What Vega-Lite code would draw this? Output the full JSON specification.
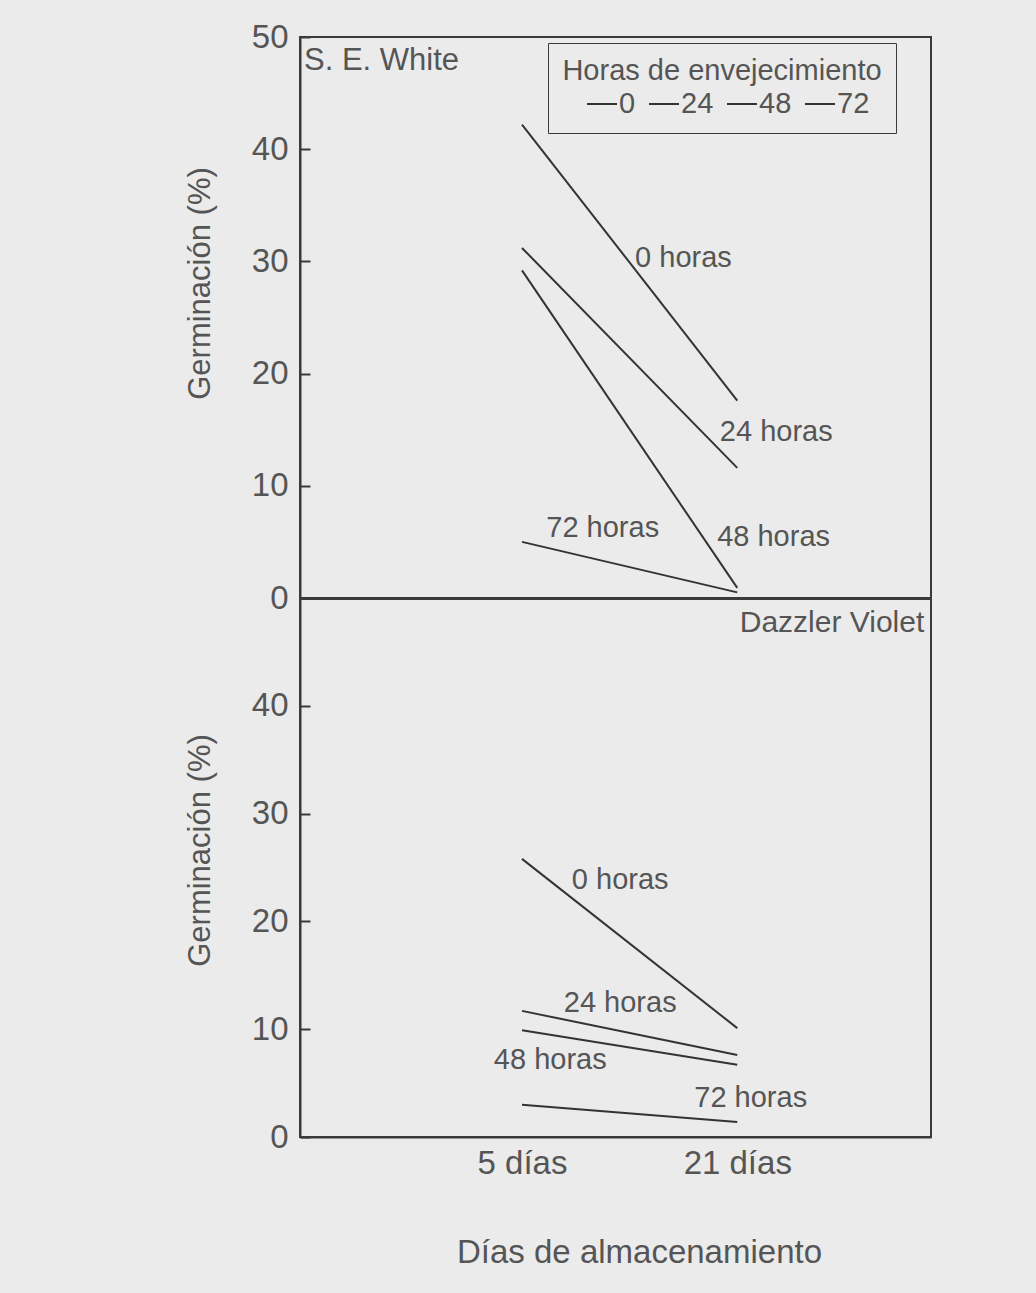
{
  "$schema": "https://vega.github.io/schema/vega-lite/v6.json",
  "background": "#ebebeb",
  "padding": {"left": 183, "top": 20, "right": 104, "bottom": 34},
  "spacing": 0,
  "bounds": "flush",
  "config": {
    "font": "Liberation Sans",
    "view": {"stroke": "#3a3a3a", "strokeWidth": 2},
    "axis": {"grid": false, "domainColor": "#3a3a3a", "domainWidth": 2, "tickColor": "#3a3a3a", "tickWidth": 2, "labelColor": "#555555", "titleColor": "#555555", "titleFontWeight": "normal", "labelFont": "Liberation Sans", "titleFont": "Liberation Sans"},
    "text": {"font": "Liberation Sans", "color": "#555555"}
  },
  "datasets": {
    "lines": [
      {"panel": "S. E. White", "horas": "0", "dia": 5, "germ": 42.2},
      {"panel": "S. E. White", "horas": "0", "dia": 21, "germ": 17.6},
      {"panel": "S. E. White", "horas": "24", "dia": 5, "germ": 31.2},
      {"panel": "S. E. White", "horas": "24", "dia": 21, "germ": 11.6},
      {"panel": "S. E. White", "horas": "48", "dia": 5, "germ": 29.2},
      {"panel": "S. E. White", "horas": "48", "dia": 21, "germ": 0.9},
      {"panel": "S. E. White", "horas": "72", "dia": 5, "germ": 5.0},
      {"panel": "S. E. White", "horas": "72", "dia": 21, "germ": 0.5},
      {"panel": "Dazzler Violet", "horas": "0", "dia": 5, "germ": 25.8},
      {"panel": "Dazzler Violet", "horas": "0", "dia": 21, "germ": 10.1},
      {"panel": "Dazzler Violet", "horas": "24", "dia": 5, "germ": 11.7},
      {"panel": "Dazzler Violet", "horas": "24", "dia": 21, "germ": 7.6},
      {"panel": "Dazzler Violet", "horas": "48", "dia": 5, "germ": 9.9},
      {"panel": "Dazzler Violet", "horas": "48", "dia": 21, "germ": 6.7},
      {"panel": "Dazzler Violet", "horas": "72", "dia": 5, "germ": 3.0},
      {"panel": "Dazzler Violet", "horas": "72", "dia": 21, "germ": 1.4}
    ],
    "labels": [
      {"panel": "S. E. White", "texto": "0 horas", "dia": 17.0, "germ": 30.3},
      {"panel": "S. E. White", "texto": "24 horas", "dia": 23.9, "germ": 14.8},
      {"panel": "S. E. White", "texto": "48 horas", "dia": 23.7, "germ": 5.4},
      {"panel": "S. E. White", "texto": "72 horas", "dia": 11.0, "germ": 6.2},
      {"panel": "Dazzler Violet", "texto": "0 horas", "dia": 12.3, "germ": 23.8},
      {"panel": "Dazzler Violet", "texto": "24 horas", "dia": 12.3, "germ": 12.4},
      {"panel": "Dazzler Violet", "texto": "48 horas", "dia": 7.1, "germ": 7.1},
      {"panel": "Dazzler Violet", "texto": "72 horas", "dia": 22.0, "germ": 3.6}
    ],
    "panels": [
      {"panel": "S. E. White", "dia": -11.2, "germ": 47.9},
      {"panel": "Dazzler Violet", "dia": 34.9, "germ": 47.7}
    ]
  },
  "vconcat": [
    {
      "width": 631,
      "height": 561,
      "layer": [
        {
          "data": {"name": "lines"},
          "transform": [{"filter": "datum.panel == 'S. E. White'"}],
          "mark": {"type": "line", "strokeWidth": 2},
          "encoding": {
            "x": {"field": "dia", "type": "quantitative", "scale": {"domain": [-11.5, 35.4], "nice": false, "zero": false},
              "axis": {"orient": "bottom", "labels": false, "ticks": false, "title": null, "domainWidth": 3}},
            "y": {"field": "germ", "type": "quantitative", "scale": {"domain": [0, 50], "nice": false},
              "axis": {"values": [0, 10, 20, 30, 40, 50], "tickSize": -10, "labelPadding": 22, "labelFontSize": 33, "title": "Germinación (%)", "titleFontSize": 31, "titleY": 246, "titlePadding": 35}},
            "color": {"field": "horas", "type": "nominal",
              "scale": {"domain": ["0", "24", "48", "72"], "range": ["#333333", "#333333", "#333333", "#333333"]},
              "legend": {"title": "Horas de envejecimiento", "orient": "none", "legendX": 248, "legendY": 6, "direction": "horizontal",
                "symbolType": "stroke", "symbolSize": 900, "symbolStrokeWidth": 2, "symbolOffset": 12, "labelFontSize": 29, "labelColor": "#555555", "labelOffset": 1,
                "columnPadding": 0, "titleFontSize": 29, "titleFontWeight": "normal", "titleColor": "#555555", "titleAnchor": "middle", "titlePadding": 2,
                "titleLimit": 1000, "padding": 14, "strokeColor": "#3a3a3a"}},
            "detail": {"field": "horas"}
          }
        },
        {
          "data": {"name": "labels"},
          "transform": [{"filter": "datum.panel == 'S. E. White'"}],
          "mark": {"type": "text", "fontSize": 29, "align": "center", "baseline": "middle"},
          "encoding": {
            "x": {"field": "dia", "type": "quantitative"},
            "y": {"field": "germ", "type": "quantitative"},
            "text": {"field": "texto"}
          }
        },
        {
          "data": {"name": "panels"},
          "transform": [{"filter": "datum.panel == 'S. E. White'"}],
          "mark": {"type": "text", "fontSize": 31, "align": "left", "baseline": "middle"},
          "encoding": {
            "x": {"field": "dia", "type": "quantitative"},
            "y": {"field": "germ", "type": "quantitative"},
            "text": {"field": "panel"}
          }
        }
      ]
    },
    {
      "width": 631,
      "height": 539,
      "layer": [
        {
          "data": {"name": "lines"},
          "transform": [{"filter": "datum.panel == 'Dazzler Violet'"}],
          "mark": {"type": "line", "strokeWidth": 2, "color": "#333333"},
          "encoding": {
            "x": {"field": "dia", "type": "quantitative", "scale": {"domain": [-11.5, 35.4], "nice": false, "zero": false},
              "axis": {"values": [5, 21], "labelExpr": "datum.value == 5 ? '5 días' : '21 días'", "ticks": false, "labelFontSize": 33, "labelPadding": 10,
                "title": "Días de almacenamiento", "titleFontSize": 33, "titleX": 339, "titlePadding": 56}},
            "y": {"field": "germ", "type": "quantitative", "scale": {"domain": [0, 50], "nice": false},
              "axis": {"values": [0, 10, 20, 30, 40], "tickSize": -10, "labelPadding": 22, "labelFontSize": 33, "title": "Germinación (%)", "titleFontSize": 31, "titleY": 252, "titlePadding": 35}},
            "detail": {"field": "horas"}
          }
        },
        {
          "data": {"name": "labels"},
          "transform": [{"filter": "datum.panel == 'Dazzler Violet'"}],
          "mark": {"type": "text", "fontSize": 29, "align": "center", "baseline": "middle"},
          "encoding": {
            "x": {"field": "dia", "type": "quantitative"},
            "y": {"field": "germ", "type": "quantitative"},
            "text": {"field": "texto"}
          }
        },
        {
          "data": {"name": "panels"},
          "transform": [{"filter": "datum.panel == 'Dazzler Violet'"}],
          "mark": {"type": "text", "fontSize": 30, "align": "right", "baseline": "middle"},
          "encoding": {
            "x": {"field": "dia", "type": "quantitative"},
            "y": {"field": "germ", "type": "quantitative"},
            "text": {"field": "panel"}
          }
        }
      ]
    }
  ],
  "resolve": {"scale": {"color": "independent"}, "legend": {"color": "independent"}}
}
